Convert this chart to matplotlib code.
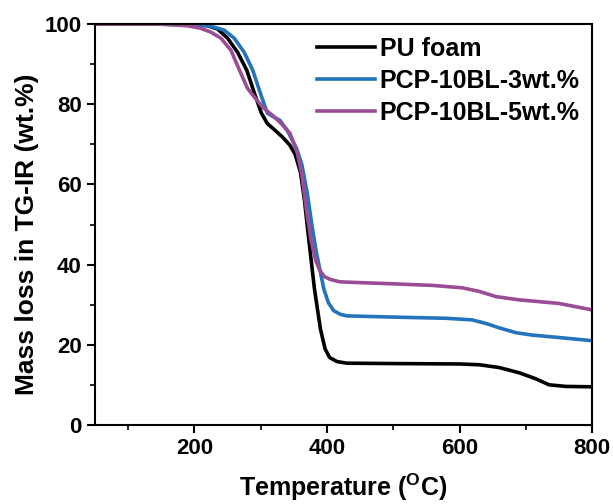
import matplotlib.pyplot as plt

plt.rcParams['font.family'] = ['Liberation Sans', 'DejaVu Sans']
plt.rcParams['font.weight'] = 'bold'

# TG curves (temperature in degC, residual mass in wt.%)
temp_pu = [50, 150, 200, 220, 235, 250, 265, 279, 290, 301, 310, 321, 333, 344, 352,
           360, 366, 372, 381, 390, 397, 404, 415, 430, 500, 600, 630, 660, 690, 715, 735, 760, 800]
mass_pu = [100, 100, 99.9, 99.6, 98.8, 96.5, 93, 88.5, 83, 77.8, 75.2, 73.6, 71.8, 69.8, 67.5,
           63, 56, 47, 34, 24, 19, 16.8, 15.8, 15.4, 15.3, 15.2, 15.0, 14.3, 13.0, 11.5, 10.0, 9.6, 9.5]

temp_3 = [50, 150, 200, 225, 245, 260, 275, 288, 300, 310, 320, 329, 340, 354, 362,
          370, 378, 384, 389, 395, 402, 410, 420, 430, 500, 580, 619, 640, 660, 685, 710, 750, 800]
mass_3 = [100, 100, 99.9, 99.5, 98.5, 96.5, 93, 88.5, 82.5, 77.8, 76.8, 76, 73.5, 69, 65,
          58, 49, 43, 39, 34, 30.5, 28.5, 27.6, 27.2, 26.9, 26.6, 26.2, 25.3, 24.2, 23, 22.4, 21.8, 21]

temp_5 = [50, 150, 190, 209, 225, 240, 255, 268, 280, 292, 303, 312, 321, 332, 344,
          355, 362, 369, 376, 383, 389, 396, 405, 419, 450, 500, 560, 604, 630, 655, 690, 750, 800]
mass_5 = [100, 100, 99.6, 99, 98, 96.5, 93.5, 88.5, 84, 81.5, 79.3, 78, 76.8, 75, 72.8,
          68, 62.5, 53.6, 46, 41, 38.6, 37, 36.3, 35.7, 35.5, 35.2, 34.8, 34.2, 33.3, 32, 31.2, 30.3, 28.7]

fig = plt.figure(figsize=(6.13, 5.04), dpi=100)
ax = fig.add_axes([0.155, 0.157, 0.811, 0.795])

ax.plot(temp_pu, mass_pu, color='black', lw=2.6, label='PU foam')
ax.plot(temp_3, mass_3, color='#2373BD', lw=2.6, label='PCP-10BL-3wt.%')
ax.plot(temp_5, mass_5, color='#9A4C95', lw=2.6, label='PCP-10BL-5wt.%')

ax.set_xlim(50, 800)
ax.set_ylim(0, 100)
ax.set_xticks([200, 400, 600, 800])
ax.set_xticks([100, 300, 500, 700], minor=True)
ax.set_yticks([0, 20, 40, 60, 80, 100])
ax.set_yticks([10, 30, 50, 70, 90], minor=True)
ax.tick_params(which='major', direction='out', length=6, width=1.5, labelsize=16)
ax.tick_params(which='minor', direction='out', length=3.5, width=1.2)
for s in ax.spines.values():
    s.set_linewidth(1.5)

ax.set_xlabel('Temperature ($\\mathregular{^{O}}$C)', fontsize=18, fontweight='bold', labelpad=9)
ax.set_ylabel('Mass loss in TG-IR (wt.%)', fontsize=19, fontweight='bold')
ax.yaxis.set_label_coords(-0.112, 0.475)

ax.legend(loc='upper right', frameon=False, fontsize=18, handlelength=2.3,
          handletextpad=0.2, labelspacing=0.33, borderaxespad=0.2, borderpad=0.3)

fig.savefig('out.png', dpi=100)
